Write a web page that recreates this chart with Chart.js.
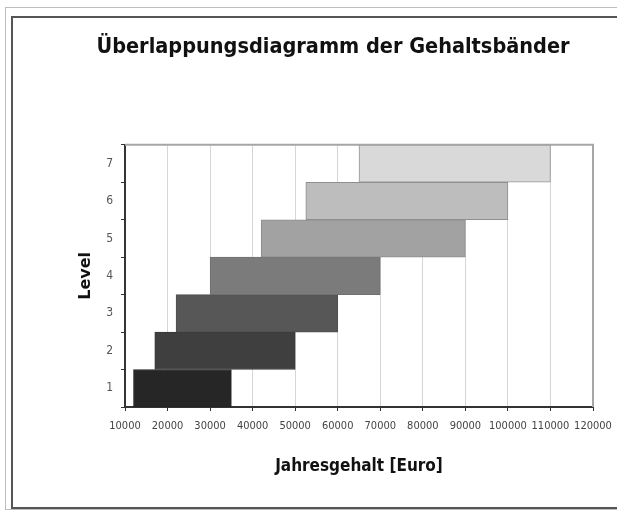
<!DOCTYPE html>
<html>
<head>
<meta charset="utf-8">
<script src="https://cdn.jsdelivr.net/npm/chart.js@4"></script>
<style>
  html, body { margin: 0; padding: 0; width: 617px; height: 510px; overflow: hidden; background: #fff; }
  #outer { position: absolute; left: 5px; top: 7px; width: 700px; height: 501px; border: 1px solid #bdbdbd; }
  #inner { position: absolute; left: 11px; top: 16px; width: 700px; height: 489px; border: 2px solid #555; }
  #wrap { position: absolute; left: 13px; top: 18px; width: 634px; height: 488px; }
</style>
</head>
<body>
<div id="outer"></div>
<div id="inner"></div>
<div id="wrap"><canvas id="bandChart"></canvas></div>
<script>
// Gehaltsbänder je Level
var levels = ['1', '2', '3', '4', '5', '6', '7'];
var minGehalt = [12000, 17000, 22000, 30000, 42000, 52500, 65000];
var maxGehalt = [35000, 50000, 60000, 70000, 90000, 100000, 110000];
var xTicks = [10000, 20000, 30000, 40000, 50000, 60000, 70000, 80000, 90000, 100000, 110000, 120000];

var fillColors = ['#262626', '#3f3f3f', '#575757', '#7b7b7b', '#a2a2a2', '#bdbdbd', '#d9d9d9'];
var edgeColors = ['#222222', '#383838', '#4e4e4e', '#707070', '#8c8c8c', '#8f8f8f', '#959595'];

var narrow = '"DejaVu Sans Condensed", "Liberation Sans Narrow", sans-serif';

// rahmen oben und rechts um die zeichenfläche
var plotFrame = {
  id: 'plotFrame',
  afterDatasetsDraw: function(chart) {
    var a = chart.chartArea, c = chart.ctx;
    c.save();
    c.strokeStyle = '#a6a6a6';
    c.lineWidth = 2;
    c.beginPath();
    c.moveTo(a.left, a.top);
    c.lineTo(a.right, a.top);
    c.lineTo(a.right, a.bottom);
    c.stroke();
    c.restore();
  }
};

var ctx = document.getElementById('bandChart').getContext('2d');
var bandChart = new Chart(ctx, {
  type: 'bar',
  data: {
    labels: levels,
    datasets: [{
      label: 'Gehaltsband',
      data: levels.map(function(l, i) { return [minGehalt[i], maxGehalt[i]]; }),
      backgroundColor: fillColors,
      borderColor: edgeColors,
      borderWidth: 1,
      borderSkipped: false,
      barPercentage: 1,
      categoryPercentage: 1
    }]
  },
  options: {
    indexAxis: 'y',
    responsive: true,
    maintainAspectRatio: false,
    animation: false,
    layout: {
      padding: { left: 60, right: 54, top: 0, bottom: 10 }
    },
    plugins: {
      legend: { display: false },
      tooltip: { enabled: false },
      title: {
        display: true,
        text: 'Überlappungsdiagramm der Gehaltsbänder',
        color: '#111',
        font: { family: narrow, size: 21.5, weight: 'bold' },
        padding: { top: 17, bottom: 84 }
      }
    },
    scales: {
      x: {
        type: 'linear',
        min: 10000,
        max: 120000,
        afterBuildTicks: function(scale) {
          scale.ticks = xTicks.map(function(v) { return { value: v }; });
        },
        afterFit: function(scale) { scale.height = 89; },
        grid: { color: '#d6d6d6', tickColor: '#333', tickLength: 4, lineWidth: 1 },
        border: { color: '#333', width: 2 },
        ticks: {
          color: '#444',
          padding: 9,
          maxRotation: 0,
          autoSkip: false,
          font: { family: narrow, size: 11 },
          callback: function(v) { return String(v); }
        },
        title: {
          display: true,
          text: 'Jahresgehalt [Euro]',
          color: '#111',
          font: { family: narrow, size: 17, weight: 'bold' },
          padding: { top: 0, bottom: 19 }
        }
      },
      y: {
        reverse: true,
        afterFit: function(scale) { scale.width = 52; },
        grid: { drawOnChartArea: false, tickColor: '#333', tickLength: 4, offset: true },
        border: { color: '#333', width: 2 },
        ticks: {
          color: '#555',
          padding: 8,
          font: { family: narrow, size: 12 }
        },
        title: {
          display: true,
          text: 'Level',
          color: '#111',
          font: { family: '"DejaVu Sans", sans-serif', size: 16, weight: 'bold' },
          padding: { top: 3, bottom: 0 }
        }
      }
    }
  },
  plugins: [plotFrame]
});
</script>
</body>
</html>
